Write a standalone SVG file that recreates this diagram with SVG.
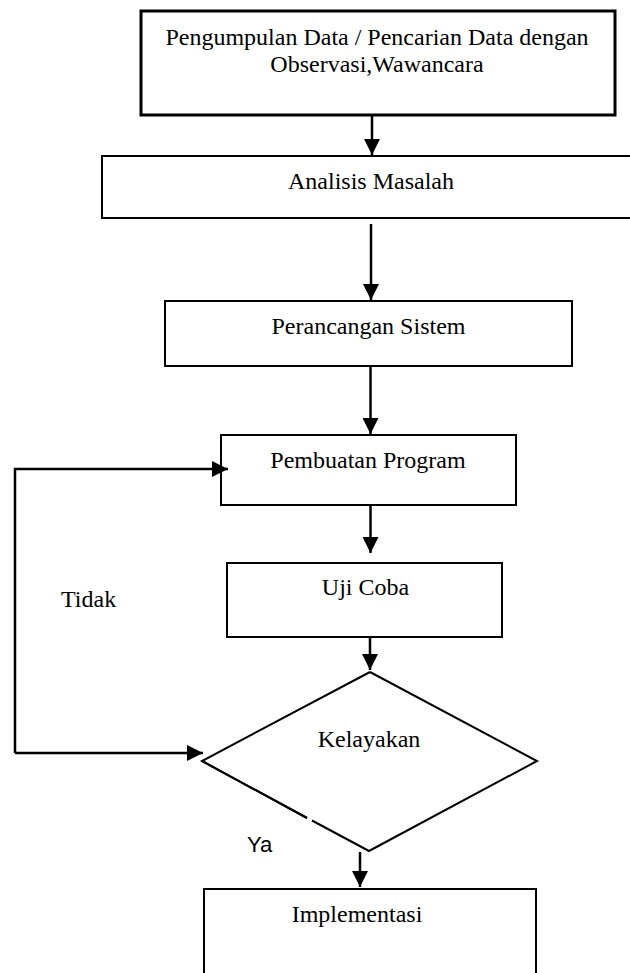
<svg xmlns="http://www.w3.org/2000/svg" width="630" height="973" viewBox="0 0 630 973">
<style>
.box{fill:#fff;stroke:#000;stroke-width:2}
.thick{stroke-width:3}
.t{font-family:"Liberation Serif","Times New Roman",serif;font-size:24px;fill:#000;text-anchor:middle}
.lbl{font-family:"Liberation Serif","Times New Roman",serif;font-size:24px;fill:#000}
.sans{font-family:"Liberation Sans",Arial,sans-serif;font-size:22px;fill:#000}
.c{fill:none;stroke:#000;stroke-width:2.5}
</style>
<defs>
<marker id="ah" markerUnits="userSpaceOnUse" markerWidth="16" markerHeight="16" refX="15" refY="7.5" orient="auto" viewBox="0 0 15 15">
<path d="M0,0 L15,7.5 L0,15 z" fill="#000"/>
</marker>
</defs>
<rect width="630" height="973" fill="#fff"/>
<g id="n1">
<rect class="box thick" x="141" y="11" width="474" height="104"/>
<text class="t" x="377" y="45">Pengumpulan Data / Pencarian Data dengan</text>
<text class="t" x="377" y="72">Observasi,Wawancara</text>
</g>
<g id="n2">
<rect class="box" x="102" y="156" width="540" height="62"/>
<text class="t" x="371" y="189">Analisis Masalah</text>
</g>
<g id="n3">
<rect class="box" x="165" y="301" width="407" height="65"/>
<text class="t" x="368.5" y="334">Perancangan Sistem</text>
</g>
<g id="n4">
<rect class="box" x="221" y="435" width="295" height="70"/>
<text class="t" x="368" y="468">Pembuatan Program</text>
</g>
<g id="n5">
<rect class="box" x="227" y="563" width="275" height="74"/>
<text class="t" x="365.5" y="595">Uji Coba</text>
</g>
<g id="n6">
<path d="M370,672 L537,761 L369,851 L312,820.5 M307,818 L202,761 Z" fill="#fff" stroke="#000" stroke-width="2"/>
<path d="M307,818 L202,761 L370,672" fill="none" stroke="#000" stroke-width="2"/>
<text class="t" x="369" y="747">Kelayakan</text>
</g>
<g id="n7">
<rect class="box" x="204" y="889" width="332" height="100"/>
<text class="t" x="357" y="922">Implementasi</text>
</g>
<g id="labels">
<text class="lbl" x="61" y="607">Tidak</text>
<text class="sans" x="247" y="852">Ya</text>
</g>
<g id="connectors">
<line class="c" x1="372" y1="115" x2="372" y2="155" marker-end="url(#ah)"/>
<line class="c" x1="371" y1="224" x2="371" y2="300" marker-end="url(#ah)"/>
<line class="c" x1="370.5" y1="366" x2="370.5" y2="434" marker-end="url(#ah)"/>
<line class="c" x1="370.5" y1="505" x2="370.5" y2="553" marker-end="url(#ah)"/>
<line class="c" x1="370" y1="637" x2="370" y2="670" marker-end="url(#ah)"/>
<line class="c" x1="360" y1="852" x2="360" y2="887" marker-end="url(#ah)"/>
<path class="c" d="M15,753 V469 H228" marker-end="url(#ah)"/>
<path class="c" d="M15,753 H203" marker-end="url(#ah)"/>
</g>
</svg>
